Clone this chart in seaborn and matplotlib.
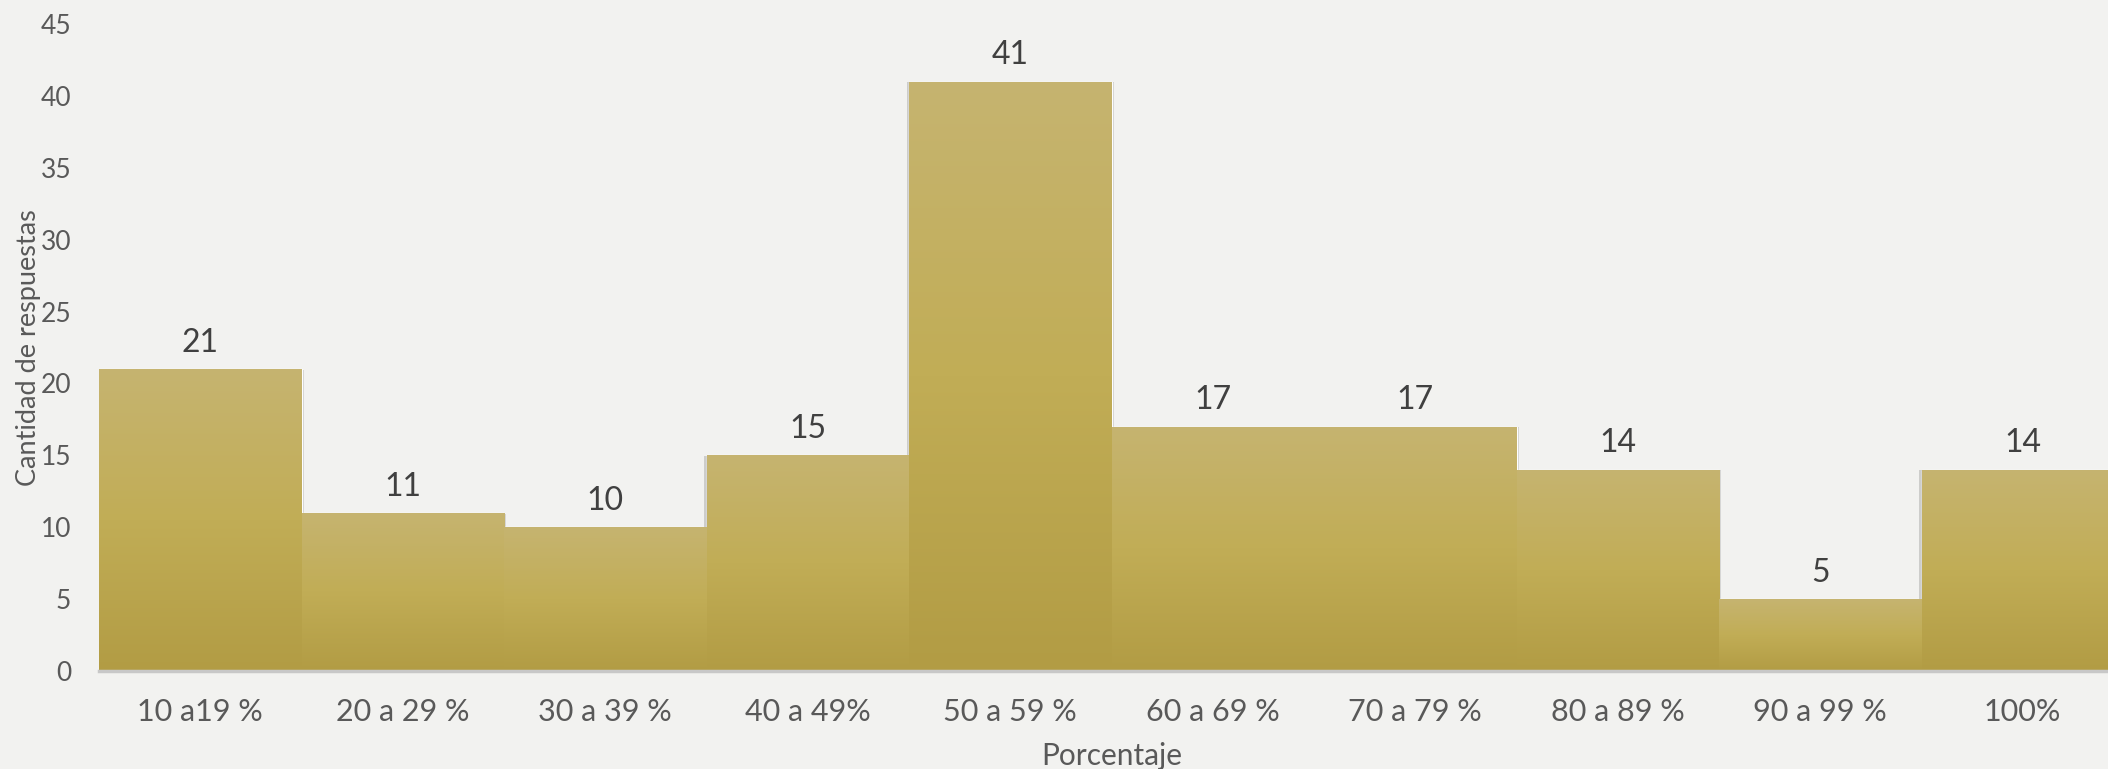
import numpy as np
import pandas as pd
import seaborn as sns
import matplotlib.pyplot as plt
import matplotlib.patheffects as pe
from matplotlib.colors import LinearSegmentedColormap

categorias = ['10 a19 %', '20 a 29 %', '30 a 39 %', '40 a 49%', '50 a 59 %',
              '60 a 69 %', '70 a 79 %', '80 a 89 %', '90 a 99 %', '100%']
respuestas = [21, 11, 10, 15, 41, 17, 17, 14, 5, 14]

df = pd.DataFrame({'Porcentaje': categorias, 'Respuestas': respuestas})

sns.set_style('white')
plt.rcParams['font.family'] = ['Lato', 'DejaVu Sans']

fondo = '#f2f2f0'
fig = plt.figure(figsize=(21.08, 7.69), dpi=100, facecolor=fondo)
# el área de trazado sigue más allá del borde derecho, como en el original
ax = fig.add_axes([99 / 2108, 1 - 671 / 769, 2025 / 2108, (671 - 24) / 769])
ax.set_facecolor(fondo)

sns.barplot(data=df, x='Porcentaje', y='Respuestas', color='#bfaa55',
            width=1.0, saturation=1, ax=ax, zorder=2)

# degradado vertical en cada barra + sombra suave
grad = np.linspace(0, 1, 256).reshape(-1, 1)
cmap = LinearSegmentedColormap.from_list('oro', ['#b29c44', '#c1ad56', '#c6b470'])
sombra = [pe.SimplePatchShadow(offset=(1.5, -0.5), shadow_rgbFace='#888888', alpha=0.35),
          pe.SimplePatchShadow(offset=(-1.5, -0.5), shadow_rgbFace='#888888', alpha=0.35),
          pe.Normal()]
for p in ax.patches:
    p.set_path_effects(sombra)
    x0, y0 = p.get_x(), p.get_y()
    w, h = p.get_width(), p.get_height()
    im = ax.imshow(grad, cmap=cmap, aspect='auto', origin='lower',
                   extent=[x0, x0 + w, y0, y0 + h], zorder=3)
    im.set_clip_path(p)
    ax.text(x0 + w / 2, h + 1.2, str(int(h)), ha='center', va='baseline',
            fontsize=23, color='#404040', zorder=4)

ax.set_xlim(-0.5, 9.5)
ax.set_ylim(0, 45)
ax.set_yticks(range(0, 46, 5))
ax.tick_params(axis='y', labelsize=19, colors='#595959', length=0, pad=20)
ax.tick_params(axis='x', labelsize=22, colors='#595959', length=0, pad=19.5)
ax.set_xlabel('Porcentaje', fontsize=21.5, color='#595959')
ax.xaxis.set_label_coords(0.5, -0.11)
ax.set_ylabel('Cantidad de respuestas', fontsize=19.5, color='#595959', va='center')
ax.yaxis.set_label_coords(-0.035, 0.5)

for s in ['top', 'right', 'left']:
    ax.spines[s].set_visible(False)
ax.spines['bottom'].set_color('#c8c8c8')
ax.spines['bottom'].set_linewidth(2.5)
ax.spines['bottom'].set_zorder(5)

fig.savefig('out.png', dpi=100, facecolor=fondo)
